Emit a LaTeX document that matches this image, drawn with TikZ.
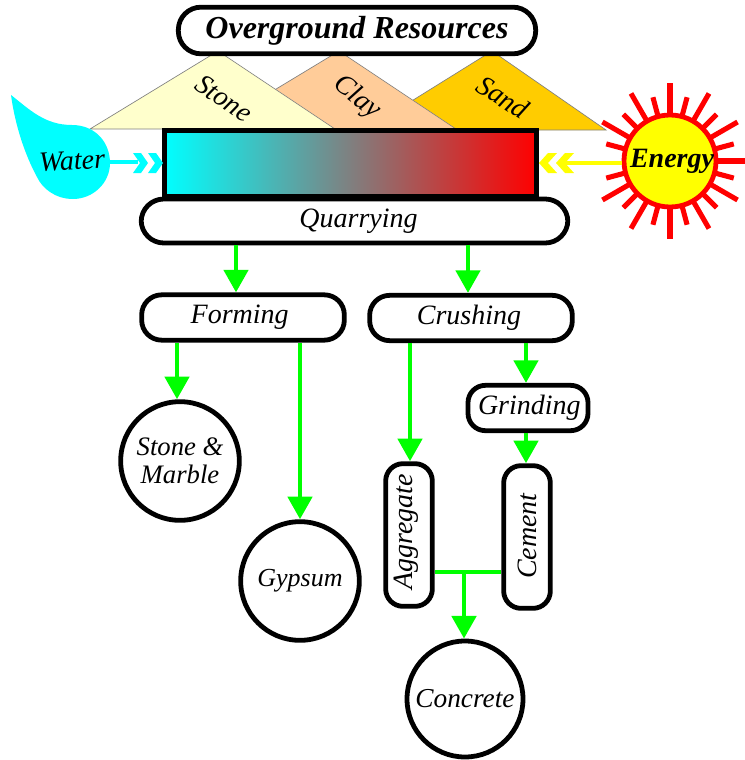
\documentclass[tikz,border=0pt]{standalone}
\usepackage{fontspec}
\setmainfont{Liberation Serif}
\definecolor{stonec}{RGB}{255,255,204}
\definecolor{clayc}{RGB}{255,204,153}
\definecolor{sandc}{RGB}{255,204,0}
\definecolor{flowc}{RGB}{0,255,0}
\definecolor{aqua}{RGB}{0,255,255}
\definecolor{hot}{RGB}{255,0,0}
\definecolor{sunny}{RGB}{255,255,0}
\usetikzlibrary{arrows.meta}
\newcommand{\bigit}{\fontsize{21}{23}\selectfont\itshape}
\tikzset{
  pill/.style={draw=black,line width=3.6pt,fill=white,rounded corners=#1,inner sep=0pt,font=\bigit},
  pill/.default=16pt,
  disc/.style={circle,draw=black,line width=3.6pt,fill=white,inner sep=0pt,align=center,font=\fontsize{20}{21}\selectfont\itshape},
  flow/.style={draw=flowc,line width=3.6pt,-{Triangle[length=17pt,width=18pt,fill=flowc]}},
  flowline/.style={draw=flowc,line width=3.6pt},
  hill/.style={draw=black!50,line width=0.5pt},
  lab/.style={inner sep=0pt,font=\bigit},
  ray/.style={draw=hot,line width=3.8pt}
}
\newcommand{\chevR}[2]{\fill[aqua] (#1,#2-10) -- ++(8,0) -- ++(7,10) -- ++(-7,10) -- ++(-8,0) -- ++(7,-10) -- cycle;}
\newcommand{\chevL}[2]{\fill[sunny] (#1,#2-10) -- ++(-9,0) -- ++(-9,10) -- ++(9,10) -- ++(9,0) -- ++(-9,-10) -- cycle;}
\begin{document}
\begin{tikzpicture}[x=0.75pt,y=-0.75pt]
\useasboundingbox (0,0) rectangle (745,760);
% hills
\fill[sandc] (365,130) -- (492,51) -- (606,130) -- cycle;
\draw[hill] (365,130) -- (492,51) -- (606,130) -- cycle;
\fill[clayc] (210,129) -- (339,51) -- (456,129) -- cycle;
\draw[hill] (210,129) -- (339,51) -- (456,129) -- cycle;
\fill[stonec] (90,129) -- (218,51) -- (335,129) -- cycle;
\draw[hill] (90,129) -- (218,51) -- (335,129) -- cycle;
% top pill
\node[pill=17pt,minimum width=268pt,minimum height=35pt,font=\fontsize{24}{26}\selectfont\bfseries\itshape] (res) at (357,30.5) {Overground Resources};
% water
\fill[aqua] (11,95) .. controls (30,110) and (45,125) .. (72,125) .. controls (95,125) and (110,142) .. (110,163) .. controls (110,183) and (93,199) .. (73,199) .. controls (55,199) and (42,188) .. (37,177) .. controls (25,155) and (15,125) .. (11,95) -- cycle;
\node[lab] (water) at (72,161) {\rotatebox{3}{Water}};
% quarrying and box
\node[pill=17pt,minimum width=320pt,minimum height=33pt] (quarry) at (354.5,221) {\hspace*{6pt}Quarrying};
\node[draw=black,line width=3.6pt,left color=aqua,right color=hot,minimum width=279pt,minimum height=49pt,inner sep=0pt] (box) at (350.5,163.5) {};
% water arrow
\coordinate (wout) at (110,162);
\draw[aqua,line width=3.6pt] (wout) -- (138,162);
\chevR{133}{163}\chevR{148}{163}
% sun
\foreach \a in {0,30,60,90,120,150,210,240,270,300,330} \draw[ray] (670,161) ++(\a:46) -- ++(\a:32);
\foreach \a in {15,45,...,345} \draw[ray] (670,161) ++(\a:46) -- ++(\a:20);
\node[circle,draw=hot,fill=sunny,line width=3.6pt,minimum size=69pt,inner sep=0pt,font=\fontsize{21}{23}\selectfont\bfseries\itshape] (energy) at (670,161) {\hspace*{3pt}Energy};
% energy arrow
\draw[sunny,line width=3.6pt] (energy.west |- 0,163) -- (560,163);
\chevL{557}{163}\chevL{574}{163}
% hill labels
\node[lab,rotate=-34] (stone) at (224,98) {Stone};
\node[lab,rotate=-38] (clay) at (357,98) {Clay};
\node[lab,rotate=-32] (sand) at (503,97) {Sand};
% process boxes
\node[pill=15pt,minimum width=152pt,minimum height=34pt] (forming) at (243,317.5) {\hspace*{-5pt}Forming};
\node[pill=15pt,minimum width=152pt,minimum height=34pt] (crushing) at (471,318) {\hspace*{-3pt}Crushing};
\node[pill=13pt,minimum width=90pt,minimum height=34pt] (grinding) at (528,408) {\hspace*{2pt}Grinding};
\node[pill=13pt,minimum width=35pt,minimum height=107pt] (aggregate) at (409,535) {};
\node[lab,rotate=90] (agglab) at (406,532) {Aggregate};
\node[pill=13pt,minimum width=35pt,minimum height=107pt] (cement) at (527,537) {};
\node[lab,rotate=90] (cemlab) at (527,536) {Cement};
\node[disc,minimum size=89pt] (marble) at (180,461) {Stone \&\\Marble};
\node[disc,minimum size=89pt,font=\fontsize{19.5}{21}\selectfont\itshape] (gypsum) at (300,581) {Gypsum};
\node[disc,minimum size=87pt,font=\fontsize{20.5}{21}\selectfont\itshape] (concrete) at (465,699) {Concrete};
% connectors
\draw[flow] (236,0 |- quarry.south) -- (236,0 |- forming.north);
\draw[flow] (468,0 |- quarry.south) -- (468,0 |- crushing.north);
\draw[flow] (177,0 |- forming.south) -- (177,0 |- marble.north);
\draw[flow] (300,0 |- forming.south) -- (gypsum.north);
\draw[flow] (410,0 |- crushing.south) -- (410,0 |- aggregate.north);
\draw[flow] (526,0 |- crushing.south) -- (526,0 |- grinding.north);
\draw[flow] (526,0 |- grinding.south) -- (526,0 |- cement.north);
\coordinate (tee) at (464,572);
\draw[flowline] (tee -| aggregate.east) -- (tee -| cement.west);
\draw[flow] (tee) -- (tee |- concrete.north);
\end{tikzpicture}
\end{document}
